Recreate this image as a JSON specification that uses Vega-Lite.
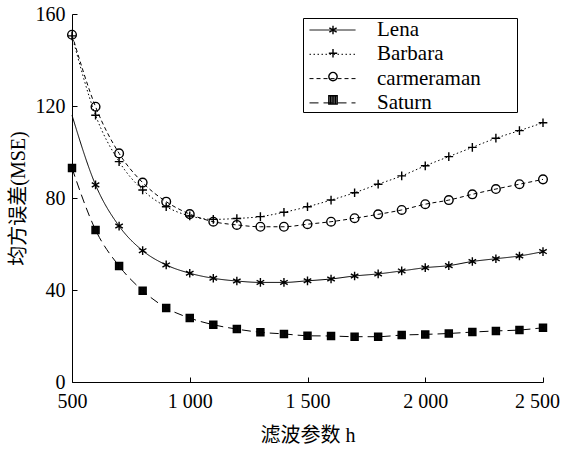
{
  "$schema": "https://vega.github.io/schema/vega-lite/v6.json",
  "width": 471,
  "height": 368,
  "autosize": {"type": "none"},
  "padding": {"left": 72, "top": 14, "right": 22, "bottom": 70},
  "background": "white",
  "config": {
    "font": "Liberation Serif, Noto Sans CJK SC",
    "view": {"stroke": null},
    "axis": {
      "domainColor": "black",
      "domainWidth": 1,
      "tickColor": "black",
      "tickWidth": 1,
      "tickSize": -5,
      "grid": false,
      "labelColor": "black",
      "labelFontSize": 20,
      "labelFont": "Liberation Serif",
      "labelFlush": false,
      "titleColor": "black",
      "titleFontSize": 20,
      "titleFontWeight": "normal",
      "titleFont": "Liberation Serif, Noto Sans CJK SC"
    },
    "legend": {
      "labelFont": "Liberation Serif",
      "labelFontSize": 21,
      "labelColor": "black"
    }
  },
  "data": {
    "values": [
      {"series": "Lena", "h": 500, "mse": 116},
      {"series": "Lena", "h": 600, "mse": 85.7},
      {"series": "Lena", "h": 700, "mse": 67.8},
      {"series": "Lena", "h": 800, "mse": 57.1},
      {"series": "Lena", "h": 900, "mse": 50.9},
      {"series": "Lena", "h": 1000, "mse": 47.3},
      {"series": "Lena", "h": 1100, "mse": 45.1},
      {"series": "Lena", "h": 1200, "mse": 43.9},
      {"series": "Lena", "h": 1300, "mse": 43.3},
      {"series": "Lena", "h": 1400, "mse": 43.3},
      {"series": "Lena", "h": 1500, "mse": 44.0},
      {"series": "Lena", "h": 1600, "mse": 44.8},
      {"series": "Lena", "h": 1700, "mse": 46.1},
      {"series": "Lena", "h": 1800, "mse": 47.0},
      {"series": "Lena", "h": 1900, "mse": 48.3},
      {"series": "Lena", "h": 2000, "mse": 49.7},
      {"series": "Lena", "h": 2100, "mse": 50.6},
      {"series": "Lena", "h": 2200, "mse": 52.4},
      {"series": "Lena", "h": 2300, "mse": 53.6},
      {"series": "Lena", "h": 2400, "mse": 54.8},
      {"series": "Lena", "h": 2500, "mse": 56.7},
      {"series": "Barbara", "h": 500, "mse": 150.5},
      {"series": "Barbara", "h": 600, "mse": 116},
      {"series": "Barbara", "h": 700, "mse": 95.8},
      {"series": "Barbara", "h": 800, "mse": 83.5},
      {"series": "Barbara", "h": 900, "mse": 76.2},
      {"series": "Barbara", "h": 1000, "mse": 72.2},
      {"series": "Barbara", "h": 1100, "mse": 70.7},
      {"series": "Barbara", "h": 1200, "mse": 71.1},
      {"series": "Barbara", "h": 1300, "mse": 71.9},
      {"series": "Barbara", "h": 1400, "mse": 73.8},
      {"series": "Barbara", "h": 1500, "mse": 76.2},
      {"series": "Barbara", "h": 1600, "mse": 79.1},
      {"series": "Barbara", "h": 1700, "mse": 82.3},
      {"series": "Barbara", "h": 1800, "mse": 86.0},
      {"series": "Barbara", "h": 1900, "mse": 89.6},
      {"series": "Barbara", "h": 2000, "mse": 94.0},
      {"series": "Barbara", "h": 2100, "mse": 98.0},
      {"series": "Barbara", "h": 2200, "mse": 102.0},
      {"series": "Barbara", "h": 2300, "mse": 106.0},
      {"series": "Barbara", "h": 2400, "mse": 109.3},
      {"series": "Barbara", "h": 2500, "mse": 112.7},
      {"series": "carmeraman", "h": 500, "mse": 151},
      {"series": "carmeraman", "h": 600, "mse": 119.7},
      {"series": "carmeraman", "h": 700, "mse": 99.4},
      {"series": "carmeraman", "h": 800, "mse": 86.7},
      {"series": "carmeraman", "h": 900, "mse": 78.4},
      {"series": "carmeraman", "h": 1000, "mse": 73.0},
      {"series": "carmeraman", "h": 1100, "mse": 69.7},
      {"series": "carmeraman", "h": 1200, "mse": 68.3},
      {"series": "carmeraman", "h": 1300, "mse": 67.5},
      {"series": "carmeraman", "h": 1400, "mse": 67.5},
      {"series": "carmeraman", "h": 1500, "mse": 68.6},
      {"series": "carmeraman", "h": 1600, "mse": 69.7},
      {"series": "carmeraman", "h": 1700, "mse": 71.2},
      {"series": "carmeraman", "h": 1800, "mse": 72.9},
      {"series": "carmeraman", "h": 1900, "mse": 74.8},
      {"series": "carmeraman", "h": 2000, "mse": 77.3},
      {"series": "carmeraman", "h": 2100, "mse": 79.1},
      {"series": "carmeraman", "h": 2200, "mse": 81.6},
      {"series": "carmeraman", "h": 2300, "mse": 83.9},
      {"series": "carmeraman", "h": 2400, "mse": 86.0},
      {"series": "carmeraman", "h": 2500, "mse": 88.1},
      {"series": "Saturn", "h": 500, "mse": 93.0},
      {"series": "Saturn", "h": 600, "mse": 66.1},
      {"series": "Saturn", "h": 700, "mse": 50.4},
      {"series": "Saturn", "h": 800, "mse": 39.7},
      {"series": "Saturn", "h": 900, "mse": 32.2},
      {"series": "Saturn", "h": 1000, "mse": 27.8},
      {"series": "Saturn", "h": 1100, "mse": 24.9},
      {"series": "Saturn", "h": 1200, "mse": 23.0},
      {"series": "Saturn", "h": 1300, "mse": 21.6},
      {"series": "Saturn", "h": 1400, "mse": 20.9},
      {"series": "Saturn", "h": 1500, "mse": 20.1},
      {"series": "Saturn", "h": 1600, "mse": 20.0},
      {"series": "Saturn", "h": 1700, "mse": 19.7},
      {"series": "Saturn", "h": 1800, "mse": 19.7},
      {"series": "Saturn", "h": 1900, "mse": 20.4},
      {"series": "Saturn", "h": 2000, "mse": 20.7},
      {"series": "Saturn", "h": 2100, "mse": 21.1},
      {"series": "Saturn", "h": 2200, "mse": 21.7},
      {"series": "Saturn", "h": 2300, "mse": 22.2},
      {"series": "Saturn", "h": 2400, "mse": 22.6},
      {"series": "Saturn", "h": 2500, "mse": 23.6}
    ]
  },
  "encoding": {
    "x": {
      "field": "h",
      "type": "quantitative",
      "scale": {"domain": [500, 2500], "nice": false, "zero": false},
      "axis": {
        "title": "滤波参数 h",
        "values": [500, 1000, 1500, 2000, 2500],
        "labelExpr": "replace(format(datum.value, ','), ',', ' ')",
        "labelPadding": 14,
        "labelOffset": {"condition": {"test": "datum.value === 2500", "value": -6}, "value": 0},
        "titleY": 53,
        "titleBaseline": "middle"
      }
    },
    "y": {
      "field": "mse",
      "type": "quantitative",
      "scale": {"domain": [0, 160], "nice": false},
      "axis": {
        "title": "均方误差(MSE)",
        "values": [0, 40, 80, 120, 160],
        "labelPadding": 12,
        "titleX": -54,
        "titleBaseline": "middle"
      }
    }
  },
  "layer": [
    {
      "mark": {"type": "line", "interpolate": "monotone", "color": "black", "strokeWidth": 1},
      "encoding": {
        "detail": {"field": "series"},
        "strokeDash": {
          "field": "series",
          "type": "nominal",
          "scale": {
            "domain": ["Lena", "Barbara", "carmeraman", "Saturn"],
            "range": [[1, 0], [1.5, 2.5], [4, 3], [9, 5]]
          },
          "legend": {
            "title": null,
            "orient": "none",
            "direction": "vertical",
            "legendX": 231,
            "legendY": 4,
            "padding": 2,
            "symbolType": "stroke",
            "symbolSize": 2116,
            "symbolStrokeColor": "black",
            "symbolStrokeWidth": 1,
            "symbolOffset": 4,
            "labelOffset": 21,
            "clipHeight": 20,
            "rowPadding": 3.3
          }
        }
      }
    },
    {
      "transform": [{"filter": "datum.series !== 'Lena' || datum.h > 500"}],
      "mark": {"type": "point", "filled": false, "color": "black", "strokeWidth": 1.4, "opacity": 1},
      "encoding": {
        "shape": {
          "field": "series",
          "type": "nominal",
          "sort": ["Lena", "Barbara", "carmeraman", "Saturn"],
          "scale": {
            "range": [
              "M0,-1L0,1M-0.87,-0.5L0.87,0.5M-0.87,0.5L0.87,-0.5",
              "M-1,0L1,0M0,-1L0,1",
              "circle",
              "M-1,-1L1,-1L1,1L-1,1ZM-0.6,-1L-0.6,1M-0.2,-1L-0.2,1M0.2,-1L0.2,1M0.6,-1L0.6,1"
            ]
          },
          "legend": {
            "title": null,
            "orient": "none",
            "direction": "vertical",
            "legendX": 231,
            "legendY": 4,
            "padding": 2,
            "symbolSize": 70,
            "symbolStrokeColor": "black",
            "symbolStrokeWidth": 1.4,
            "symbolOffset": 23,
            "labelOpacity": 0,
            "labelFontSize": 1,
            "labelOffset": 172,
            "clipHeight": 20,
            "rowPadding": 3.3,
            "strokeColor": "black"
          }
        },
        "size": {
          "condition": {"test": "datum.series === 'Saturn'", "value": 50},
          "value": 75
        }
      }
    }
  ]
}
